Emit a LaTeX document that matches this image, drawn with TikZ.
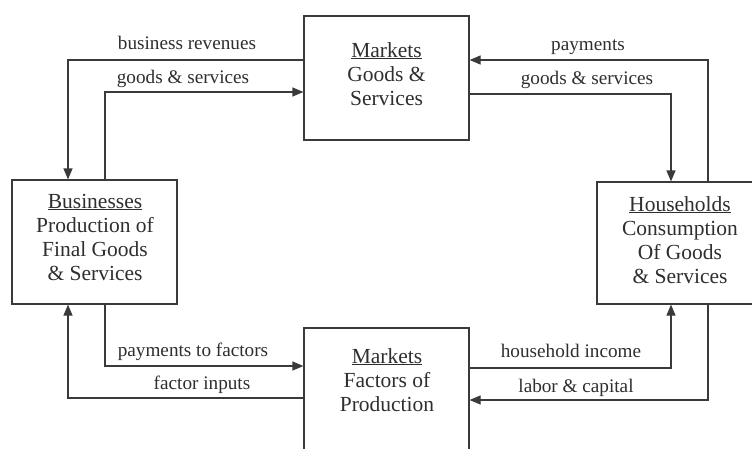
\documentclass[tikz,border=0pt]{standalone}
\usepackage{fontspec}
\setmainfont{Liberation Serif}
\usetikzlibrary{arrows.meta}
\definecolor{linec}{HTML}{3A3A3A}
\definecolor{textc}{HTML}{2E2E2E}
\begin{document}
\begin{tikzpicture}[x=1pt,y=-1pt,
  box/.style={draw=linec, line width=1.2pt, inner sep=0pt, minimum width=165pt, minimum height=124pt},
  boxtext/.style={text=textc, align=center, inner sep=0pt, anchor=base, font=\fontsize{21.5}{24}\selectfont},
  lbl/.style={text=textc, inner sep=0pt, anchor=base, font=\fontsize{19.2}{22}\selectfont},
  flow/.style={draw=linec, line width=1.2pt, -{Triangle[length=11pt,width=9pt]}}]
\useasboundingbox (0,0) rectangle (752,448);
\begin{scope}
\clip (0,0) rectangle (752,448);
\node[box] (mg) at (386.5,78) {};
\node[box] (bus) at (94.5,242) {};
\node[box, minimum height=122pt] (hh) at (679.5,243) {};
\node[box] (fm) at (386.5,390) {};

\node[boxtext] (mgt) at (386.5,105) {\underline{Markets}\\Goods \&\\Services};
\node[boxtext] (bust) at (95,280) {\underline{Businesses}\\Production of\\Final Goods\\\& Services};
\node[boxtext] (hht) at (680,283) {\underline{Households}\\Consumption\\Of Goods\\\& Services};
\node[boxtext] (fmt) at (387,411) {\underline{Markets}\\Factors of\\Production};

\draw[flow] ([yshift=18pt]mg.west) -| ([xshift=-26.5pt]bus.north);
\draw[flow] ([xshift=10.5pt]bus.north) |- ([yshift=-14pt]mg.west);
\draw[flow] ([xshift=28.5pt]hh.north) |- ([yshift=18pt]mg.east);
\draw[flow] ([yshift=-16pt]mg.east) -| ([xshift=-8.5pt]hh.north);
\draw[flow] ([xshift=10.5pt]bus.south) |- ([yshift=24pt]fm.west);
\draw[flow] ([yshift=-8pt]fm.west) -| ([xshift=-26.5pt]bus.south);
\draw[flow] ([yshift=22pt]fm.east) -| ([xshift=-8.5pt]hh.south);
\draw[flow] ([xshift=28.5pt]hh.south) |- ([yshift=-10pt]fm.east);

\node[lbl] (l1) at (187,49) {business revenues};
\node[lbl] (l2) at (183,83) {goods \& services};
\node[lbl] (l3) at (588,50) {payments};
\node[lbl] (l4) at (587,84) {goods \& services};
\node[lbl] (l5) at (193,356) {payments to factors};
\node[lbl] (l6) at (202,389) {factor inputs};
\node[lbl] (l7) at (571,357) {household income};
\node[lbl] (l8) at (576,392) {labor \& capital};
\end{scope}
\end{tikzpicture}
\end{document}
